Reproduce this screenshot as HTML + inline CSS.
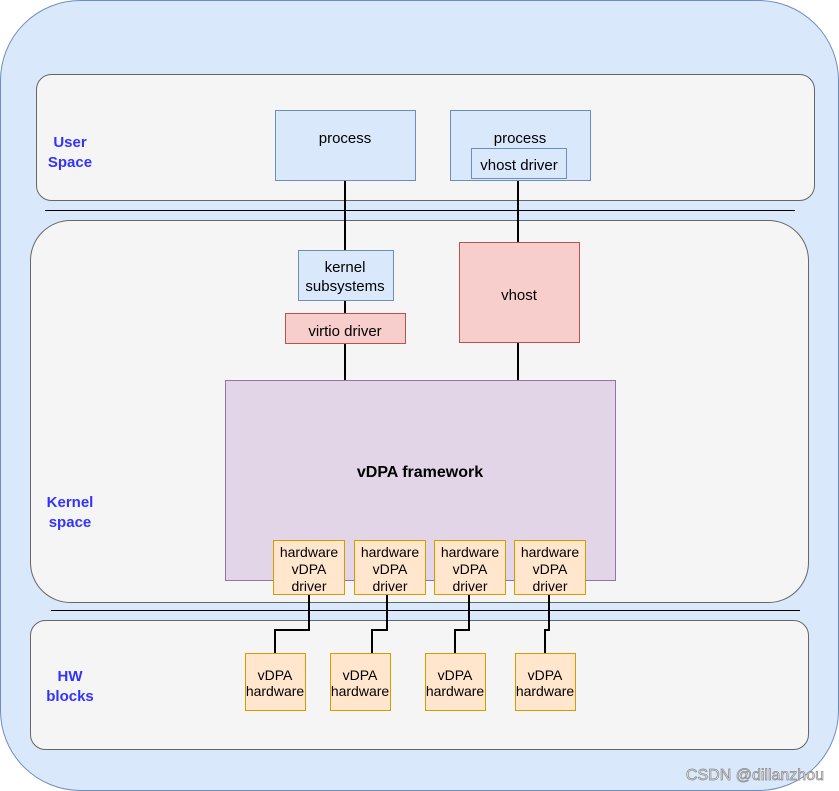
<!DOCTYPE html>
<html><head><meta charset="utf-8"><style>
html,body{margin:0;padding:0;background:#fff;}
svg{display:block;}
text{font-family:"Liberation Sans",Helvetica,Arial,sans-serif;}
</style></head><body>
<svg width="839" height="791" viewBox="0 0 839 791" xmlns="http://www.w3.org/2000/svg">
<rect x="0.5" y="0.5" width="838" height="790" rx="80" fill="#dae8fc" stroke="#6c8ebf"/>
<rect x="36.5" y="74.5" width="778" height="126" rx="15" fill="#f5f5f5" stroke="#666"/>
<rect x="30.5" y="220.5" width="778" height="382" rx="40" fill="#f5f5f5" stroke="#666"/>
<rect x="30.5" y="620.5" width="778" height="129" rx="15" fill="#f5f5f5" stroke="#666"/>
<line x1="45" y1="210.5" x2="795" y2="210.5" stroke="#000"/>
<line x1="51" y1="610.5" x2="800" y2="610.5" stroke="#000"/>
<g font-weight="bold" fill="#3333ff" font-size="15" text-anchor="middle">
<text x="70" y="147">User</text><text x="70" y="167">Space</text>
<text x="70" y="507">Kernel</text><text x="70" y="527">space</text>
<text x="70" y="681">HW</text><text x="70" y="701">blocks</text>
</g>
<g stroke="#000" stroke-width="2" fill="none">
<line x1="345" y1="180" x2="345" y2="380"/>
<line x1="518" y1="178" x2="518" y2="380"/>
<polyline points="309,594 309,630 275,630 275,653"/>
<polyline points="387,594 387,630 372,630 372,653"/>
<polyline points="469,594 469,630 455,630 455,653"/>
<polyline points="549,594 549,630 545,630 545,653"/>
</g>
<g font-size="15" text-anchor="middle" fill="#000">
<rect x="275.5" y="110.5" width="140" height="70" fill="#dae8fc" stroke="#6c8ebf"/>
<text x="345" y="143">process</text>
<rect x="450.5" y="110.5" width="140" height="70" fill="#dae8fc" stroke="#6c8ebf"/>
<text x="520" y="143">process</text>
<rect x="471.5" y="148.5" width="95" height="30" fill="#dae8fc" stroke="#6c8ebf"/>
<text x="519" y="170">vhost driver</text>
<rect x="298.5" y="250.5" width="95" height="50" fill="#dae8fc" stroke="#6c8ebf"/>
<text x="345" y="272">kernel</text><text x="345" y="291">subsystems</text>
<rect x="285.5" y="313.5" width="120" height="30" fill="#f8cecc" stroke="#b85450"/>
<text x="345" y="336">virtio driver</text>
<rect x="459.5" y="242.5" width="120" height="100" fill="#f8cecc" stroke="#b85450"/>
<text x="519" y="300">vhost</text>
<rect x="225.5" y="380.5" width="390" height="200" fill="#e1d5e7" stroke="#9673a6"/>
<text x="420" y="477" font-weight="bold" font-size="16">vDPA framework</text>
</g>
<g font-size="14" text-anchor="middle" fill="#000">
<rect x="273.5" y="540.5" width="71" height="54" fill="#ffe6cc" stroke="#d79b00"/>
<text x="309" y="557">hardware</text><text x="309" y="574">vDPA</text><text x="309" y="591">driver</text>
<rect x="354.5" y="540.5" width="71" height="54" fill="#ffe6cc" stroke="#d79b00"/>
<text x="390" y="557">hardware</text><text x="390" y="574">vDPA</text><text x="390" y="591">driver</text>
<rect x="434.5" y="540.5" width="71" height="54" fill="#ffe6cc" stroke="#d79b00"/>
<text x="470" y="557">hardware</text><text x="470" y="574">vDPA</text><text x="470" y="591">driver</text>
<rect x="514.5" y="540.5" width="71" height="54" fill="#ffe6cc" stroke="#d79b00"/>
<text x="550" y="557">hardware</text><text x="550" y="574">vDPA</text><text x="550" y="591">driver</text>
<rect x="245.5" y="653.5" width="60" height="57" fill="#ffe6cc" stroke="#d79b00"/>
<text x="275" y="680">vDPA</text><text x="275" y="696">hardware</text>
<rect x="330.5" y="653.5" width="60" height="57" fill="#ffe6cc" stroke="#d79b00"/>
<text x="360" y="680">vDPA</text><text x="360" y="696">hardware</text>
<rect x="425.5" y="653.5" width="60" height="57" fill="#ffe6cc" stroke="#d79b00"/>
<text x="455" y="680">vDPA</text><text x="455" y="696">hardware</text>
<rect x="515.5" y="653.5" width="60" height="57" fill="#ffe6cc" stroke="#d79b00"/>
<text x="545" y="680">vDPA</text><text x="545" y="696">hardware</text>
</g>
<text x="824" y="780" text-anchor="end" font-size="16" fill="#e6e6e6" stroke="#888" stroke-width="0.7">CSDN @dillanzhou</text>
</svg>
</body></html>
